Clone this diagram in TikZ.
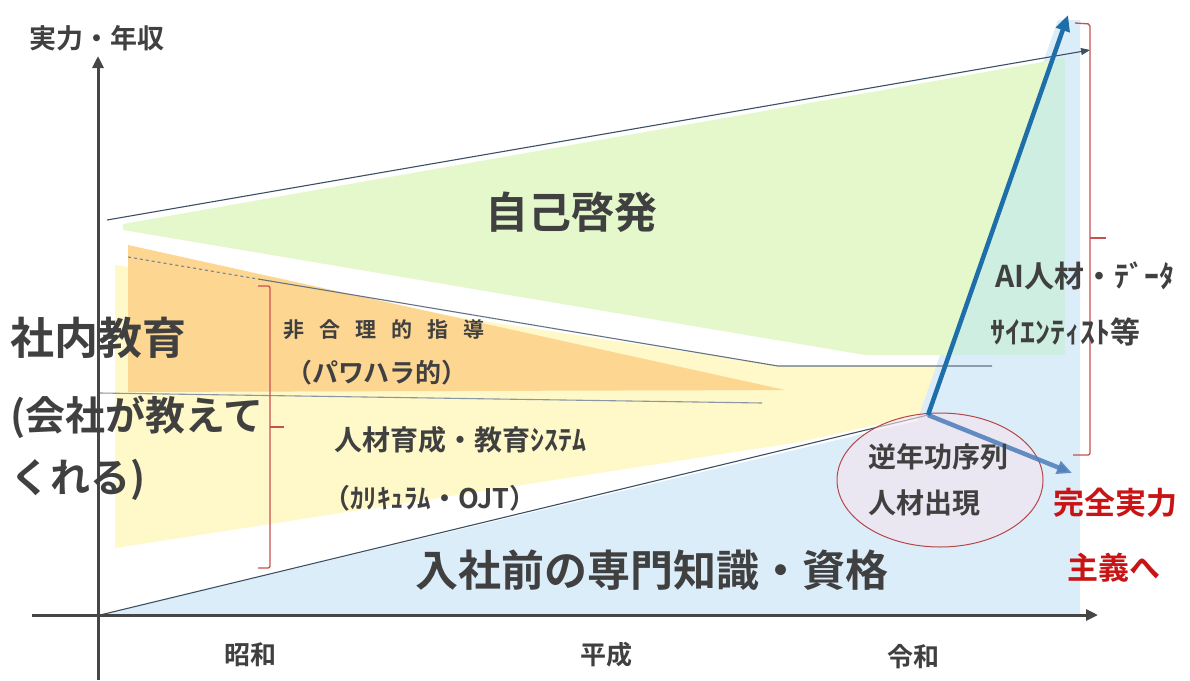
\documentclass[tikz,border=0pt]{standalone}
\usepackage{fontspec}
\setmainfont{Noto Sans CJK JP}[BoldFont=* Bold]
\usetikzlibrary{arrows.meta,shapes.geometric}
\definecolor{txt}{RGB}{64,64,64}
\definecolor{grn}{RGB}{228,248,204}
\definecolor{org}{RGB}{253,214,146}
\definecolor{ylw}{RGB}{255,248,200}
\definecolor{blu}{RGB}{220,237,250}
\definecolor{tea}{RGB}{206,238,226}
\definecolor{ln}{RGB}{60,80,100}
\definecolor{arr}{RGB}{30,110,170}
\definecolor{arrb}{RGB}{75,125,185}
\definecolor{brc}{RGB}{200,80,80}
\definecolor{pnk}{RGB}{245,228,238}
\definecolor{ax}{RGB}{70,70,70}
\definecolor{rd}{RGB}{200,20,20}
\tikzset{
  lbl/.style={text=txt, font=\bfseries\fontsize{#1}{#1}\selectfont, inner sep=0pt},
  redlbl/.style={text=rd, font=\bfseries\fontsize{#1}{#1}\selectfont, inner sep=0pt},
  thinln/.style={draw=ln, line width=1.1pt},
  axis/.style={draw=ax, line width=3pt, -{Triangle[length=12pt,width=11pt]}},
  bracket/.style={draw=brc, line width=1.3pt, rounded corners=2pt},
}
\newcommand{\gp}{\hspace{15pt}}
\begin{document}
\begin{tikzpicture}[x=1pt,y=-1pt]
\useasboundingbox (0,0) rectangle (1190,680);
% regions
\fill[ylw] (115,265) -- (780,366) -- (950,366) -- (920,415) -- (800,442) -- (115,548) -- cycle;
\fill[org] (128,245) -- (785,390) -- (128,392) -- cycle;
\fill[blu] (100,615) -- (917,421) -- (1058,20) -- (1080,20) -- (1080,615) -- cycle;
\fill[grn] (123,224) -- (1065,58) -- (1065,355) -- (865,355) -- (123,230) -- cycle;
\fill[tea] (947,355) -- (1052,59) -- (1065,58) -- (1065,355) -- cycle;
% coordinates
\coordinate (o) at (100,615);
\coordinate (k) at (928,415);
\coordinate (topS) at (107,220);
\coordinate (topE) at (1090,50);
\coordinate (dS) at (128,257);
\coordinate (dM) at (258,279);
\coordinate (dE) at (778,366);
\coordinate (hE) at (992,366);
\coordinate (mS) at (100,393);
\coordinate (mE) at (762,403);
\coordinate (upT) at (1068,15);
\coordinate (dnT) at (1072,473);
% thin lines
\draw[thinln, -{Triangle[length=9pt,width=7pt]}] (topS) -- (topE);
\draw[thinln, dashed, draw=ln!70] (dS) -- (dM);
\draw[thinln, draw=ln!80] (dM) -- (dE) -- (hE);
\draw[thinln, draw=ln!60] (mS) -- (mE);
\draw[thinln] (o) -- (k);
% ellipse
\node[ellipse, draw=brc!90!black, line width=1pt, fill=pnk, fill opacity=0.6, minimum width=206pt, minimum height=134pt] (ell) at (940,480) {};
% axes
\coordinate (yb) at (98,680);
\coordinate (yt) at (98,56);
\coordinate (xl) at (32,615);
\coordinate (xr) at (1098,615);
\draw[axis] (yb) -- (yt);
\draw[axis] (xl) -- (xr);
% arrows
\draw[draw=arrb, opacity=0.85, line width=4.5pt, -{Triangle[length=15pt,width=13pt]}] (k) -- (dnT);
\draw[draw=arr, line width=4.5pt, -{Triangle[length=16pt,width=14pt]}] (k) -- (upT);
% brackets
\draw[bracket] (258,286) -- (270,286) -- (270,568) -- (258,568);
\draw[bracket] (270,427) -- (284,427);
\draw[bracket] (1075,23) -- (1090,24) -- (1090,455) -- (1073,455);
\draw[bracket] (1090,238) -- (1106,238);
% labels
\node[lbl=27] (ylab) at (97,38) {実力・年収};
\node[lbl=43] (jiko) at (571,212) {自己啓発};
\node[lbl=44, anchor=west] (shanai) at (10,338) {社内教育};
\node[lbl=40, anchor=west] (kaisha) at (10,417) {(会社が教えて};
\node[lbl=40, anchor=west] (kureru) at (10,480) {くれる)};
\node[lbl=21] (higori) at (384,330) {非\gp 合\gp 理\gp 的\gp 指\gp 導};
\node[lbl=26] (pawa) at (377,373) {（パワハラ的）};
\node[lbl=28] (jinzai) at (460,440) {人材育成・教育ｼｽﾃﾑ};
\node[lbl=27] (kari) at (430,498) {（ｶﾘｷｭﾗﾑ・OJT）};
\node[lbl=43] (nyusha) at (652,570) {入社前の専門知識・資格};
\node[lbl=26] (showa) at (250,655) {昭和};
\node[lbl=26] (heisei) at (606,655) {平成};
\node[lbl=26] (reiwa) at (913,657) {令和};
\node[lbl=30] (ai) at (1085,276) {AI人材・ﾃﾞｰﾀ};
\node[lbl=30] (sci) at (1065,332) {ｻｲｴﾝﾃｨｽﾄ等};
\node[lbl=28] (gyaku) at (938,457) {逆年功序列};
\node[lbl=28] (shutsu) at (924,503) {人材出現};
\node[redlbl=31] (kanzen) at (1115,503) {完全実力};
\node[redlbl=31] (shugi) at (1114,568) {主義へ};
\end{tikzpicture}
\end{document}
